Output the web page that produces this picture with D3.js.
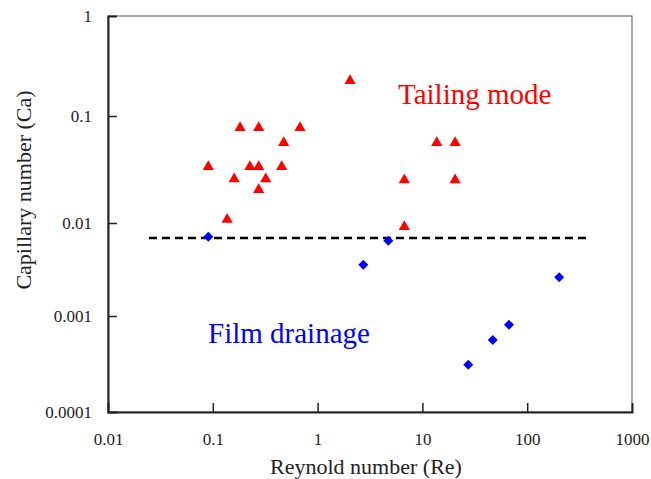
<!DOCTYPE html>
<html>
<head>
<meta charset="utf-8">
<script src="https://cdn.jsdelivr.net/npm/d3@7"></script>
<style>
  body { margin: 0; background: #fff; }
</style>
</head>
<body>
<svg id="chart" width="651" height="479" font-family="Liberation Serif"></svg>
<script>
// Tailing mode points (Re, Ca)
const tailing_re = [0.0906, 0.137, 0.160, 0.182, 0.226, 0.274, 0.274, 0.274, 0.320, 0.454, 0.475, 0.679, 2.04, 6.72, 6.72, 13.7, 20.5, 20.5];
const tailing_ca = [0.0336, 0.0108, 0.0258, 0.0778, 0.0336, 0.0778, 0.0336, 0.0205, 0.0258, 0.0336, 0.0563, 0.0778, 0.225, 0.0252, 0.0091, 0.0563, 0.0563, 0.0252];

// Film drainage points (Re, Ca)
const film_re = [0.0906, 2.73, 4.73, 27.4, 46.9, 67, 202];
const film_ca = [0.00712, 0.00356, 0.00645, 0.000311, 0.000562, 0.000812, 0.00261];

// Dashed boundary line
const boundary_re = [0.0246, 372];
const boundary_ca = 0.0069;

const x_ticks = [0.01, 0.1, 1, 10, 100, 1000];
const y_ticks = [0.0001, 0.001, 0.01, 0.1, 1];

const serif = "Liberation Serif";

const svg = d3.select("#chart");
const margin = {left: 108, right: 19, top: 16, bottom: 67};
const width = 651 - margin.left - margin.right;
const height = 479 - margin.top - margin.bottom;

// x is a plain log scale; the y decades in the source figure are not evenly spaced
let x = d3.scaleLog().domain([0.01, 1000]).range([margin.left, margin.left + width]);
let y = d3.scaleLog()
    .domain(y_ticks)
    .range([412, 316, 223, 116, 16]);

const fmt = d => String(d);

// frame (top/right)
svg.append("rect")
    .attr("x", margin.left).attr("y", margin.top)
    .attr("width", width).attr("height", height)
    .attr("fill", "none").attr("stroke", "#555").attr("stroke-width", 1);

// x axis
let xAxis = svg.append("g")
    .attr("transform", `translate(0,${margin.top + height})`)
    .call(d3.axisBottom(x).tickValues(x_ticks).tickFormat(fmt).tickSize(-9).tickPadding(21));
// y axis
let yAxis = svg.append("g")
    .attr("transform", `translate(${margin.left},0)`)
    .call(d3.axisLeft(y).tickValues(y_ticks).tickFormat(fmt).tickSize(-9).tickPadding(16));

[xAxis, yAxis].forEach(a => {
    a.attr("font-family", serif).attr("font-size", 17);
    a.select(".domain").attr("stroke", "#222").attr("stroke-width", 2);
    a.selectAll(".tick line").attr("stroke", "#222").attr("stroke-width", 1.5);
    a.selectAll(".tick text").attr("fill", "#222");
});
// ticks at the ends sit on the other axis
xAxis.selectAll(".tick line").filter(d => d === 0.01 || d === 1000).remove();
yAxis.selectAll(".tick line").filter(d => d === 0.0001 || d === 1).remove();

// dashed boundary
svg.append("line")
    .attr("x1", x(boundary_re[0])).attr("x2", x(boundary_re[1]))
    .attr("y1", y(boundary_ca)).attr("y2", y(boundary_ca))
    .attr("stroke", "black").attr("stroke-width", 2.5)
    .attr("stroke-dasharray", "8,5");

// triangles
svg.append("g")
    .selectAll("path")
    .data(tailing_re.map((r, i) => [r, tailing_ca[i]]))
    .enter()
    .append("path")
    .attr("d", d3.symbol().type(d3.symbolTriangle).size(55))
    .attr("transform", d => `translate(${x(d[0])},${y(d[1])})`)
    .attr("fill", "#ff0000");

// diamonds
svg.append("g")
    .selectAll("path")
    .data(film_re.map((r, i) => [r, film_ca[i]]))
    .enter()
    .append("path")
    .attr("d", d3.symbol().type(d3.symbolSquare).size(50))
    .attr("transform", d => `translate(${x(d[0])},${y(d[1])}) rotate(45)`)
    .attr("fill", "#0000ff");

// region labels
svg.append("text")
    .attr("x", 398).attr("y", 104)
    .attr("font-size", 29).attr("fill", "#ff0000")
    .text("Tailing mode");
svg.append("text")
    .attr("x", 208).attr("y", 343)
    .attr("font-size", 29).attr("fill", "#0000ff")
    .text("Film drainage");

// axis titles
svg.append("text")
    .attr("x", 366).attr("y", 474)
    .attr("text-anchor", "middle").attr("font-size", 22).attr("fill", "#222")
    .text("Reynold number (Re)");
svg.append("text")
    .attr("transform", "translate(31,190) rotate(-90)")
    .attr("text-anchor", "middle").attr("font-size", 22).attr("fill", "#222")
    .text("Capillary number (Ca)");
</script>
</body>
</html>
